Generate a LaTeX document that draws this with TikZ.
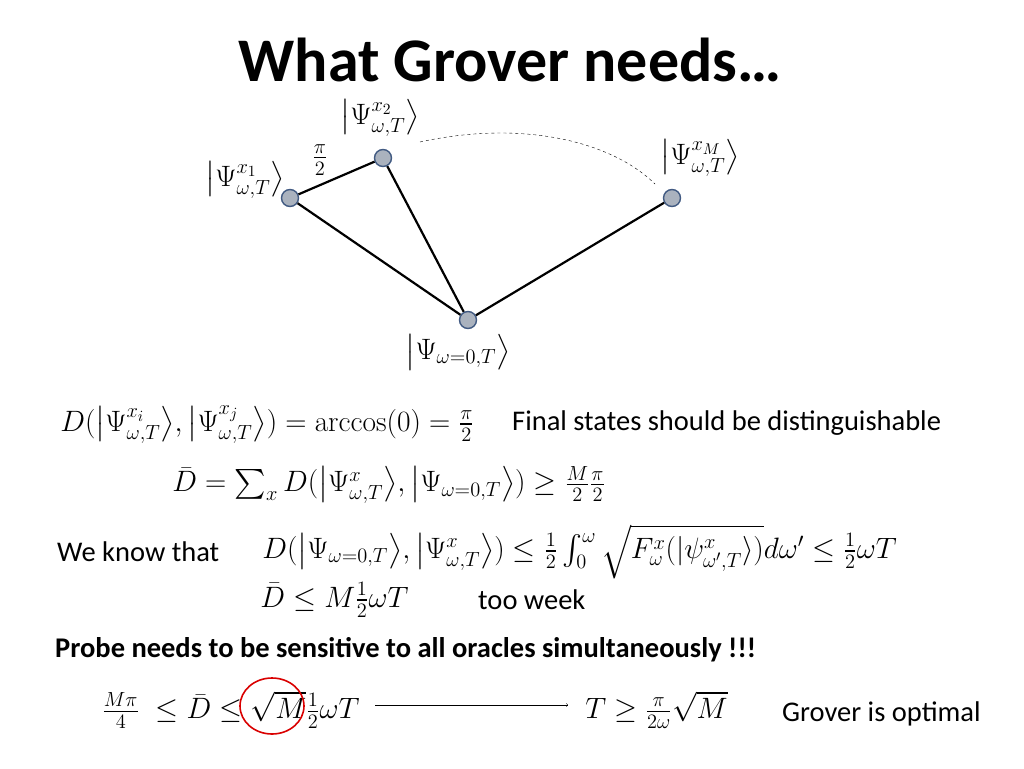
\documentclass[tikz,border=0pt]{standalone}
\usepackage{amsmath,amssymb}
\usepackage[no-math]{fontspec}
\setmainfont{Carlito}
\definecolor{nodefill}{RGB}{170,178,190}
\definecolor{nodeline}{RGB}{65,90,130}
\begin{document}
\begin{tikzpicture}[x=1pt,y=-1pt,
  st/.style={circle,draw=nodeline,fill=nodefill,line width=1.4pt,minimum size=17pt,inner sep=0pt},
  edge/.style={line width=2.2pt,black},
  mth/.style={font=\fontsize{21}{25}\selectfont,inner sep=0pt,scale=1.42,transform shape},
  txt/.style={font=\fontsize{28.5}{32}\selectfont,inner sep=0pt}]
\useasboundingbox (0,0) rectangle (1024,768);
\node[font=\fontsize{62}{70}\selectfont\bfseries] (title) at (510,60) {What Grover needs…};
\node[st] (x1) at (290,198) {};
\node[st] (x2) at (383,158) {};
\node[st] (xM) at (672,198) {};
\node[st] (z) at (468,320) {};
\draw[edge] (x1) -- (x2);
\draw[edge] (x1) -- (z);
\draw[edge] (x2) -- (z);
\draw[edge] (xM) -- (z);
\coordinate (ds) at (420,142);
\coordinate (de) at (655,184);
\draw[dashed,thin] (ds) .. controls (520,120) and (610,140) .. (de);
\node[mth] (lx2) at (380,118) {$\big|\Psi^{x_2}_{\omega,T}\big\rangle$};
\node[mth] (lx1) at (245,180) {$\big|\Psi^{x_1}_{\omega,T}\big\rangle$};
\node[mth] (lpi) at (320,160) {$\frac{\pi}{2}$};
\node[mth] (lxM) at (700,158) {$\big|\Psi^{x_M}_{\omega,T}\big\rangle$};
\node[mth] (lz) at (458,352) {$\big|\Psi_{\omega=0,T}\big\rangle$};
\node[mth,anchor=west] (e1) at (60,425) {$D(\big|\Psi^{x_i}_{\omega,T}\big\rangle,\big|\Psi^{x_j}_{\omega,T}\big\rangle)=\arccos(0)=\frac{\pi}{2}$};
\node[txt,anchor=west] (t1) at (512,423) {Final states should be distinguishable};
\node[mth,anchor=west] (e2) at (172,485) {$\bar D=\sum_x D(\big|\Psi^{x}_{\omega,T}\big\rangle,\big|\Psi_{\omega=0,T}\big\rangle)\geq\frac{M}{2}\frac{\pi}{2}$};
\node[txt,anchor=west] (t2) at (57,552) {We know that};
\node[mth,anchor=west] (e3) at (262,552) {$D(\big|\Psi_{\omega=0,T}\big\rangle,\big|\Psi^{x}_{\omega,T}\big\rangle)\leq\frac12\int_0^\omega\sqrt{F^x_\omega(|\psi^x_{\omega',T}\rangle)}d\omega'\leq\frac12\omega T$};
\node[mth,anchor=west] (e4) at (260,600) {$\bar D\leq M\frac12\omega T$};
\node[txt,anchor=west] (t3) at (478,600) {too week};
\node[txt,anchor=west,font=\fontsize{28.5}{32}\selectfont\bfseries] (t4) at (55,650) {Probe needs to be sensitive to all oracles simultaneously !!!};
\node[mth,anchor=west] (e5) at (102,710) {$\frac{M\pi}{4}\;\leq\bar D\leq\sqrt{M}\frac12\omega T$};
\draw[red!85!black,line width=1.6pt] (272,706) ellipse (32 and 28);
\node[mth,anchor=west] (e6) at (585,710) {$T\geq\frac{\pi}{2\omega}\sqrt{M}$};
\draw[->,thin] (375,705) -- (568,705);
\node[txt,anchor=west] (t5) at (782,714) {Grover is optimal};
\end{tikzpicture}
\end{document}
